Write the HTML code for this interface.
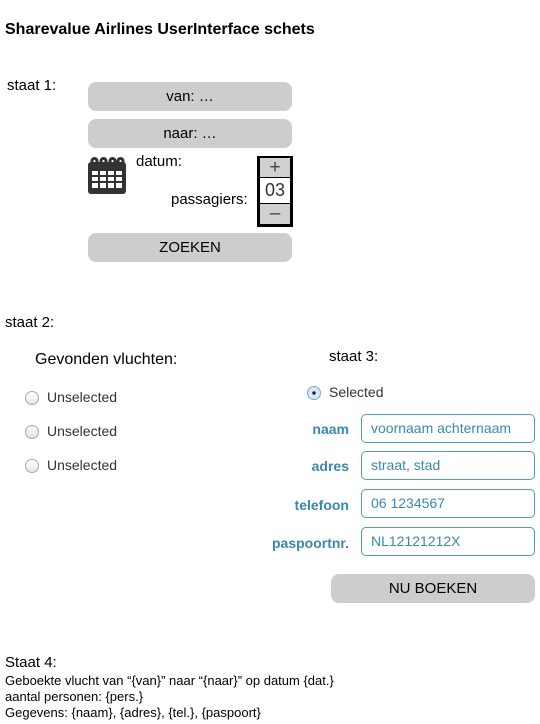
<!DOCTYPE html>
<html><head><meta charset="utf-8"><style>
body{margin:0;width:540px;height:724px;background:#fff;position:relative;font-family:"Liberation Sans",sans-serif;color:#000;overflow:hidden}
.a{position:absolute;white-space:nowrap}
.btn{position:absolute;background:#cdcdcd;border-radius:8px;text-align:center;font-size:15px}
.r{position:absolute;width:12px;height:12px;border-radius:50%;border:1px solid #aaa;background:linear-gradient(#fff,#e6e6e6)}
.lbl{position:absolute;right:191px;font-weight:bold;font-size:14px;color:#3a87b0}
.in{position:absolute;left:361px;height:29px;border:1.5px solid #4a9ad0;border-radius:5px;box-sizing:border-box;width:174px;font-size:14px;color:#3a87b0;padding-left:9px;line-height:26px}
</style></head><body>
<div class="a" style="left:5px;top:21px;font-weight:bold;font-size:16px">Sharevalue Airlines UserInterface schets</div>
<div class="a" style="left:7px;top:77px;font-size:15px">staat 1:</div>
<div class="btn" style="left:88px;top:82px;width:204px;height:29px;line-height:29px">van: …</div>
<div class="btn" style="left:88px;top:119px;width:204px;height:29px;line-height:29px">naar: …</div>
<svg class="a" style="left:88px;top:157px" width="38" height="37" viewBox="0 0 38 37">
<rect x="0" y="5" width="38" height="32" rx="3" fill="#333"/>
<g fill="#fff"><rect x="4" y="14" width="6" height="4"/><rect x="12" y="14" width="6" height="4"/><rect x="20" y="14" width="6" height="4"/><rect x="28" y="14" width="6" height="4"/>
<rect x="4" y="20" width="6" height="4"/><rect x="12" y="20" width="6" height="4"/><rect x="20" y="20" width="6" height="4"/><rect x="28" y="20" width="6" height="4"/>
<rect x="4" y="26" width="6" height="5"/><rect x="12" y="26" width="6" height="5"/><rect x="20" y="26" width="6" height="5"/><rect x="28" y="26" width="6" height="5"/></g>
<g fill="none" stroke="#333" stroke-width="3"><rect x="4" y="1.5" width="5" height="9" rx="2.5"/><rect x="13" y="1.5" width="5" height="9" rx="2.5"/><rect x="22" y="1.5" width="5" height="9" rx="2.5"/><rect x="30" y="1.5" width="5" height="9" rx="2.5"/></g>
</svg>
<div class="a" style="left:136px;top:153px;font-size:15px">datum:</div>
<div class="a" style="left:171px;top:191px;font-size:15px">passagiers:</div>
<div class="a" style="left:257px;top:156px;width:36px;height:71px;background:#000">
<div class="a" style="left:3px;top:2px;width:30px;height:19px;background:#d0d0d0;text-align:center;font-size:19px;line-height:19px;color:#444">+</div>
<div class="a" style="left:3px;top:22px;width:30px;height:25px;background:#fff;text-align:center;font-size:18px;line-height:25px;color:#333">03</div>
<div class="a" style="left:3px;top:48px;width:30px;height:20px;background:#d0d0d0;text-align:center;font-size:19px;line-height:20px;color:#444">–</div>
</div>
<div class="btn" style="left:88px;top:233px;width:204px;height:29px;line-height:29px">ZOEKEN</div>
<div class="a" style="left:5px;top:314px;font-size:15px">staat 2:</div>
<div class="a" style="left:35px;top:351px;font-size:16px">Gevonden vluchten:</div>
<div class="r" style="left:25px;top:391px"></div><div class="a" style="left:47px;top:389px;font-size:14px;color:#333">Unselected</div>
<div class="r" style="left:25px;top:425px"></div><div class="a" style="left:47px;top:423px;font-size:14px;color:#333">Unselected</div>
<div class="r" style="left:25px;top:459px"></div><div class="a" style="left:47px;top:457px;font-size:14px;color:#333">Unselected</div>
<div class="a" style="left:329px;top:348px;font-size:15px">staat 3:</div>
<div class="r" style="left:307px;top:386px;border-color:#7aa6cc;background:radial-gradient(#222 1.5px,#dbe9f6 2px)"></div>
<div class="a" style="left:329px;top:384px;font-size:14px;color:#333">Selected</div>
<div class="lbl" style="top:421px">naam</div><div class="in" style="top:414px">voornaam achternaam</div>
<div class="lbl" style="top:458px">adres</div><div class="in" style="top:451px">straat, stad</div>
<div class="lbl" style="top:497px">telefoon</div><div class="in" style="top:489px">06 1234567</div>
<div class="lbl" style="top:535px">paspoortnr.</div><div class="in" style="top:527px">NL12121212X</div>
<div class="btn" style="left:331px;top:574px;width:204px;height:29px;line-height:29px">NU BOEKEN</div>
<div class="a" style="left:5px;top:654px;font-size:15px">Staat 4:</div>
<div class="a" style="left:5px;top:673px;font-size:13px">Geboekte vlucht van “{van}” naar “{naar}” op datum {dat.}</div>
<div class="a" style="left:5px;top:689px;font-size:13px">aantal personen: {pers.}</div>
<div class="a" style="left:5px;top:705px;font-size:13px">Gegevens: {naam}, {adres}, {tel.}, {paspoort}</div>
</body></html>
